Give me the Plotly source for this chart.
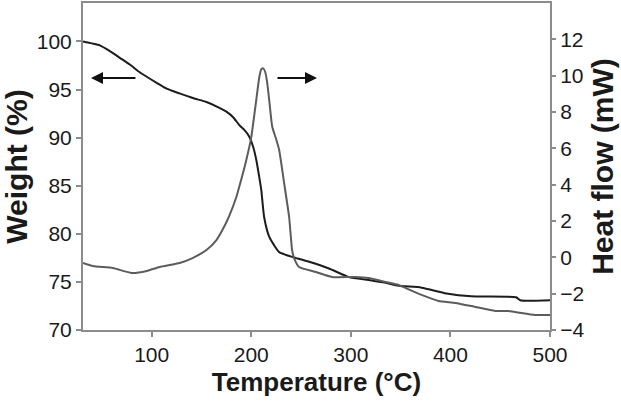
import plotly.graph_objects as go

# Weight (TGA) curve
weight_T = [31, 40, 48, 58, 68, 78, 88, 97, 105, 115, 128, 142, 155, 168, 175, 182, 188, 193,
            198, 202, 205, 208, 210, 213, 218, 223, 228, 235, 241, 258, 278, 298, 318, 335,
            348, 371, 396, 421, 466, 470, 500]
weight_W = [100.0, 99.8, 99.6, 99.0, 98.3, 97.6, 96.8, 96.2, 95.7, 95.1, 94.6, 94.1, 93.7,
            93.1, 92.7, 92.1, 91.3, 90.8, 90.1, 89.0, 87.7, 85.9, 84.6, 81.7, 79.7, 78.8,
            78.1, 77.8, 77.6, 77.1, 76.4, 75.5, 75.2, 74.9, 74.6, 74.4, 73.8, 73.5, 73.4,
            73.1, 73.1]

# Heat flow (DSC) curve
heat_T = [31, 41, 61, 80, 95, 108, 128, 141, 155, 165, 171, 178, 185, 190, 195, 200, 205,
          208, 210, 212, 214, 216, 218, 221, 225, 228, 233, 238, 241, 243, 248, 265, 281,
          305, 318, 335, 348, 355, 371, 388, 405, 425, 445, 458, 485, 500]
heat_H = [-0.31, -0.48, -0.59, -0.86, -0.75, -0.53, -0.31, -0.04, 0.40, 0.95, 1.50, 2.30,
          3.32, 4.30, 5.36, 6.62, 8.66, 9.90, 10.35, 10.40, 10.20, 9.60, 8.66, 7.20, 6.50,
          5.91, 4.09, 2.22, 0.40, -0.04, -0.53, -0.81, -1.08, -1.08, -1.14, -1.36, -1.52,
          -1.69, -2.07, -2.40, -2.51, -2.73, -2.95, -2.95, -3.17, -3.17]

x_ticks = [100, 200, 300, 400, 500]
left_ticks = [70, 75, 80, 85, 90, 95, 100]
right_ticks = [-4, -2, 0, 2, 4, 6, 8, 10, 12]

FONT = "Liberation Sans, Arial, sans-serif"
AXC = "#8c8c8c"

fig = go.Figure()
fig.add_trace(go.Scatter(x=weight_T, y=weight_W, mode="lines", line_shape="spline",
                         line=dict(color="#1c1c1c", width=2, smoothing=0.6),
                         yaxis="y", showlegend=False))
fig.add_trace(go.Scatter(x=heat_T, y=heat_H, mode="lines", line_shape="spline",
                         line=dict(color="#5c5c5c", width=2, smoothing=0.5),
                         yaxis="y2", showlegend=False))

fig.update_layout(
    width=621, height=402,
    margin=dict(l=83, r=71, t=3, b=72),
    paper_bgcolor="white", plot_bgcolor="white",
    font=dict(family=FONT, color="#1a1a1a", size=21),
    xaxis=dict(range=[31, 500], tickvals=x_ticks, showgrid=False, zeroline=False,
               showline=True, linecolor=AXC, linewidth=2, mirror=True, automargin=False,
               ticks="outside", ticklen=5, tickcolor=AXC, tickwidth=1.5,
               tickfont=dict(size=21),
               title=dict(text="<b>Temperature (°C)</b>", font=dict(size=26), standoff=8)),
    yaxis=dict(range=[70, 104], tickvals=left_ticks, showgrid=False, zeroline=False,
               showline=True, linecolor=AXC, linewidth=2, automargin=False,
               ticks="outside", ticklen=5, tickcolor=AXC, tickwidth=1.5,
               tickfont=dict(size=21),
               title=dict(text="<b>Weight (%)</b>", font=dict(size=30), standoff=1)),
    yaxis2=dict(range=[-4, 14], tickvals=right_ticks, overlaying="y", side="right",
                showgrid=False, zeroline=False, automargin=False,
                showline=True, linecolor=AXC, linewidth=2,
                ticks="outside", ticklen=4, tickcolor=AXC, tickwidth=1.5,
                tickfont=dict(size=21),
                title=dict(text="<b>Heat flow (mW)</b>", font=dict(size=30), standoff=9)),
    annotations=[
        dict(x=39, y=96.2, xref="x", yref="y", ax=46, ay=0, text="", showarrow=True,
             arrowhead=2, arrowsize=1.2, arrowwidth=2, arrowcolor="#111111"),
        dict(x=266, y=96.2, xref="x", yref="y", ax=-41, ay=0, text="", showarrow=True,
             arrowhead=2, arrowsize=1.2, arrowwidth=2, arrowcolor="#111111"),
    ],
)

fig.write_html("out.html", config={"displayModeBar": False},
               post_script="document.body.style.margin='0';")
